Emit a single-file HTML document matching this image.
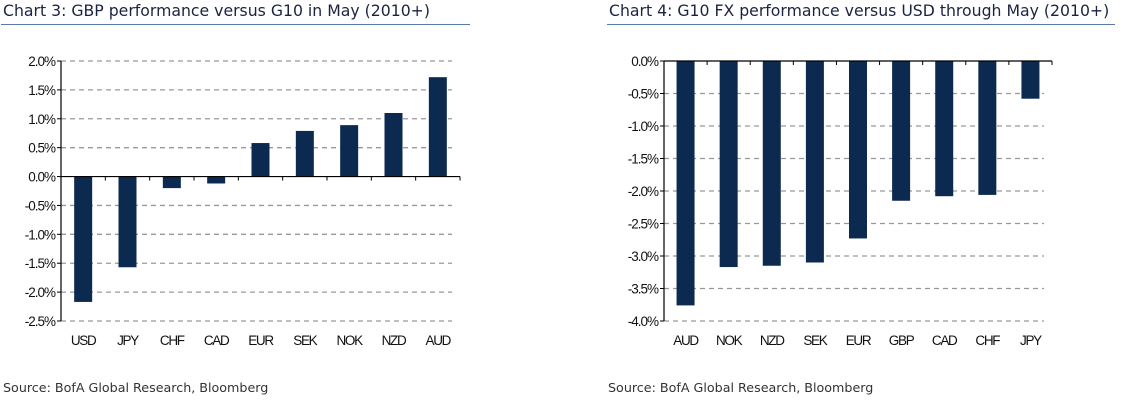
<!DOCTYPE html>
<html><head><meta charset="utf-8"><style>
body{margin:0;background:#fff;width:1139px;height:404px;overflow:hidden;font-family:"Liberation Sans",sans-serif}
.title{position:absolute;top:1px;font-family:"DejaVu Sans",sans-serif;font-size:15.7px;color:#1a2440;white-space:nowrap}
.rule{position:absolute;top:24px;height:1px;background:#5a78a8}
.src{position:absolute;top:380px;font-family:"DejaVu Sans",sans-serif;font-size:12.7px;color:#333;white-space:nowrap}
svg{position:absolute;left:0;top:0}
</style></head><body>
<div class="title" style="left:3px">Chart 3: GBP performance versus G10 in May (2010+)</div>
<div class="rule" style="left:1px;width:469px"></div>
<div class="title" style="left:609px">Chart 4: G10 FX performance versus USD through May (2010+)</div>
<div class="rule" style="left:607px;width:508px"></div>
<div class="src" style="left:3px">Source: BofA Global Research, Bloomberg</div>
<div class="src" style="left:608px">Source: BofA Global Research, Bloomberg</div>
<svg id="s" width="1139" height="404"></svg>
<script>
const cats3=["USD","JPY","CHF","CAD","EUR","SEK","NOK","NZD","AUD"];
const vals3=[-2.17,-1.57,-0.2,-0.12,0.58,0.79,0.89,1.1,1.72];
const ticks3=[2.0,1.5,1.0,0.5,0.0,-0.5,-1.0,-1.5,-2.0,-2.5];
const cats4=["AUD","NOK","NZD","SEK","EUR","GBP","CAD","CHF","JPY"];
const vals4=[-3.76,-3.17,-3.15,-3.1,-2.73,-2.15,-2.08,-2.06,-0.58];
const ticks4=[0.0,-0.5,-1.0,-1.5,-2.0,-2.5,-3.0,-3.5,-4.0];
const svg=document.getElementById('s');const NS="http://www.w3.org/2000/svg";
function mk(t,a){const e=document.createElementNS(NS,t);for(const k in a)e.setAttribute(k,a[k]);svg.appendChild(e);return e;}
function chart(id,cats,vals,ticks,x0,x1,yTop,yBot){
  const vmax=ticks[0],vmin=ticks[ticks.length-1];
  const y=v=>yTop+(vmax-v)/(vmax-vmin)*(yBot-yTop);
  const bw=(x1-x0)/cats.length;
  ticks.forEach(t=>{
    if(t!==0){const g=mk('line',{x1:x0,x2:x1-8,y1:y(t),y2:y(t),stroke:'#999','stroke-width':1.3,'stroke-dasharray':'5,4'});
    
    }
    const tk=mk('line',{x1:x0-4,x2:x0,y1:y(t),y2:y(t),stroke:'#000'});
    
    
    const l=mk('text',{x:x0-6,y:y(t)+5,'text-anchor':'end','font-size':13.5,fill:'#111','letter-spacing':'-1'});
    l.textContent=t.toFixed(1)+'%';
    
    
  });
  cats.forEach((c,i)=>{
    const cx=x0+bw*(i+0.5),v=vals[i];
    const r=mk('rect',{x:cx-9,y:Math.min(y(v),y(0)),width:18,height:Math.abs(y(v)-y(0)),fill:'#0c2a50'});
    
    
    const l=mk('text',{x:cx,y:yBot+24,'text-anchor':'middle','font-size':13.5,fill:'#111','letter-spacing':'-1.3'});
    l.textContent=c;
    
    
    const xt=mk('line',{x1:x0+bw*(i+1),x2:x0+bw*(i+1),y1:y(0),y2:y(0)+4,stroke:'#000'});
    
    
  });
  const ya=mk('line',{x1:x0,x2:x0,y1:yTop,y2:yBot,stroke:'#000','stroke-width':1.2});
  
  
  const xa=mk('line',{x1:x0,x2:x1,y1:y(0),y2:y(0),stroke:'#000','stroke-width':1.2});
  
  
}
chart('chart3',cats3,vals3,ticks3,61,460,61,321);
chart('chart4',cats4,vals4,ticks4,664,1052,61,321);
</script>
</body></html>
